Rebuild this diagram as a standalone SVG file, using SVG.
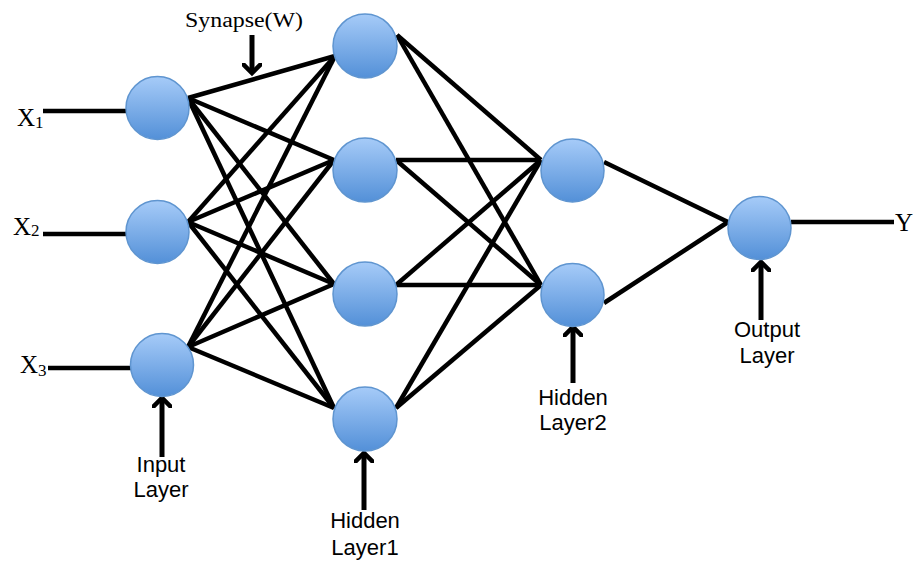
<svg xmlns="http://www.w3.org/2000/svg" width="913" height="562" viewBox="0 0 913 562">
<defs>
<linearGradient id="g" x1="0" y1="0" x2="0" y2="1">
<stop offset="0" stop-color="#a6cbf8"/>
<stop offset="1" stop-color="#5390d8"/>
</linearGradient>
<marker id="ah" viewBox="0 0 20 20" refX="10" refY="10" markerWidth="20" markerHeight="20" markerUnits="userSpaceOnUse" orient="auto">
<path d="M1,1 L10,10 L1,19" fill="none" stroke="#000" stroke-width="4.5" stroke-linecap="square"/>
</marker>
</defs>
<style>
.n{fill:url(#g);stroke:#5f95d0;stroke-width:1.5}
.e{stroke:#000;stroke-width:4.5;fill:none}
.a{stroke:#000;stroke-width:5;fill:none}
.s{font-family:"Liberation Serif","DejaVu Serif",serif;fill:#000}
.t{font-family:"Liberation Sans",Arial,sans-serif;font-size:22px;fill:#000;text-anchor:middle}
</style>
<rect width="913" height="562" fill="#fff"/>
<g id="connectors">
<line class="e" x1="43" y1="111" x2="127" y2="111"/>
<line class="e" x1="43" y1="234" x2="127" y2="234"/>
<line class="e" x1="48" y1="368" x2="131" y2="368"/>
<line class="e" x1="791" y1="222" x2="894" y2="222"/>
<g>
<line class="e" x1="188" y1="98" x2="335" y2="56"/>
<line class="e" x1="188" y1="98" x2="334" y2="160"/>
<line class="e" x1="188" y1="98" x2="334" y2="284"/>
<line class="e" x1="188" y1="98" x2="334" y2="408"/>
<line class="e" x1="188" y1="222" x2="335" y2="56"/>
<line class="e" x1="188" y1="222" x2="334" y2="160"/>
<line class="e" x1="188" y1="222" x2="334" y2="284"/>
<line class="e" x1="188" y1="222" x2="334" y2="408"/>
<line class="e" x1="188" y1="347" x2="335" y2="56"/>
<line class="e" x1="188" y1="347" x2="334" y2="160"/>
<line class="e" x1="188" y1="347" x2="334" y2="284"/>
<line class="e" x1="188" y1="347" x2="334" y2="408"/>
</g>
<g>
<line class="e" x1="397" y1="35" x2="541" y2="160"/>
<line class="e" x1="397" y1="35" x2="541" y2="285"/>
<line class="e" x1="396" y1="160" x2="541" y2="160"/>
<line class="e" x1="396" y1="160" x2="541" y2="285"/>
<line class="e" x1="396" y1="285" x2="541" y2="160"/>
<line class="e" x1="396" y1="285" x2="541" y2="285"/>
<line class="e" x1="396" y1="408" x2="541" y2="160"/>
<line class="e" x1="396" y1="408" x2="541" y2="285"/>
</g>
<line class="e" x1="604" y1="162" x2="728" y2="222"/>
<line class="e" x1="604" y1="303" x2="728" y2="222"/>
<line class="a" x1="252" y1="35" x2="252" y2="73" marker-end="url(#ah)"/>
<line class="a" x1="162" y1="457" x2="162" y2="398" marker-end="url(#ah)"/>
<line class="a" x1="364" y1="510" x2="364" y2="453" marker-end="url(#ah)"/>
<line class="a" x1="573" y1="383" x2="573" y2="327" marker-end="url(#ah)"/>
<line class="a" x1="761" y1="320" x2="761" y2="262" marker-end="url(#ah)"/>
</g>
<g id="input1"><circle class="n" cx="157.5" cy="108" r="31.5"/></g>
<g id="input2"><circle class="n" cx="157.5" cy="232" r="31.5"/></g>
<g id="input3"><circle class="n" cx="162" cy="365" r="31.5"/></g>
<g id="hidden1a"><circle class="n" cx="365" cy="46" r="32"/></g>
<g id="hidden1b"><circle class="n" cx="365" cy="170" r="32"/></g>
<g id="hidden1c"><circle class="n" cx="365" cy="294" r="32"/></g>
<g id="hidden1d"><circle class="n" cx="365" cy="419" r="32"/></g>
<g id="hidden2a"><circle class="n" cx="572.5" cy="170.5" r="31.5"/></g>
<g id="hidden2b"><circle class="n" cx="572.5" cy="295" r="31.5"/></g>
<g id="output"><circle class="n" cx="759.5" cy="228" r="31.5"/></g>
<g id="labels">
<text class="s" x="17" y="126" font-size="25">X<tspan font-size="17" dy="2">1</tspan></text>
<text class="s" x="13" y="235" font-size="25">X<tspan font-size="17" dy="1">2</tspan></text>
<text class="s" x="20" y="373" font-size="25">X<tspan font-size="17" dy="3">3</tspan></text>
<text class="s" x="895" y="231" font-size="25">Y</text>
<text class="s" x="185" y="27" font-size="20" textLength="118" lengthAdjust="spacingAndGlyphs">Synapse(W)</text>
<text class="t" x="161" y="472">Input</text>
<text class="t" x="161" y="497">Layer</text>
<text class="t" x="365" y="528">Hidden</text>
<text class="t" x="365" y="555">Layer1</text>
<text class="t" x="573" y="405">Hidden</text>
<text class="t" x="573" y="430">Layer2</text>
<text class="t" x="767" y="337">Output</text>
<text class="t" x="767" y="363">Layer</text>
</g>
</svg>
